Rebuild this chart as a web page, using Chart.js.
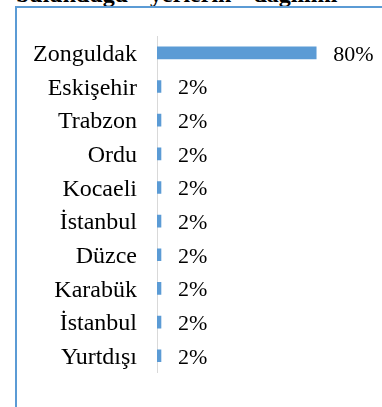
<!DOCTYPE html>
<html lang="tr">
<head>
<meta charset="utf-8">
<title>bulunduğu yerlerin dağılımı</title>
<script src="https://cdn.jsdelivr.net/npm/chart.js@4/dist/chart.umd.min.js"></script>
<style>
    html, body {
        margin: 0;
        padding: 0;
        background: #fff;
        overflow: hidden;
    }
    #page {
        position: relative;
        width: 382px;
        height: 407px;
        overflow: hidden;
    }
    #title {
        position: absolute;
        left: 16px;
        top: -18px;
        font: bold 24px "Liberation Serif", "Times New Roman", serif;
        line-height: 24px;
        word-spacing: 16px;
        white-space: nowrap;
        color: #000;
    }
    #frame {
        position: absolute;
        left: 15px;
        top: 6px;
        width: 420px;
        height: 460px;
        border: 2px solid #5b9bd5;
        box-sizing: border-box;
    }
    #chart {
        position: absolute;
        left: 0;
        top: 0;
    }
</style>
</head>
<body>
<div id="page">
    <div id="title">bulunduğu yerlerin dağılımı</div>
    <div id="frame"></div>
    <canvas id="chart" width="382" height="407"></canvas>
</div>
<script>
// places and their share (%)
const places = ["Zonguldak", "Eskişehir", "Trabzon", "Ordu", "Kocaeli",
    "İstanbul", "Düzce", "Karabük", "İstanbul", "Yurtdışı"];
const shares = [80, 2, 2, 2, 2, 2, 2, 2, 2, 2];

const serif = "'Liberation Serif', 'Times New Roman', serif";

// writes "n%" just past the end of every bar
const valueLabels = {
    id: "valueLabels",
    afterDatasetsDraw(chart) {
        const ctx = chart.ctx;
        const meta = chart.getDatasetMeta(0);
        ctx.save();
        ctx.font = "22px " + serif;
        ctx.fillStyle = "#000";
        ctx.textAlign = "left";
        ctx.textBaseline = "middle";
        meta.data.forEach(function (bar, i) {
            ctx.fillText(shares[i] + "%", bar.x + 17, bar.y + 2);
        });
        ctx.restore();
    }
};

function drawChart() {
    let ctx = document.getElementById("chart").getContext("2d");

    new Chart(ctx, {
        type: "bar",
        data: {
            labels: places,
            datasets: [
                {
                    data: shares,
                    backgroundColor: "#5b9bd5",
                    borderWidth: 0,
                    barThickness: 12
                }
            ]
        },
        options: {
            indexAxis: "y",
            responsive: false,
            animation: false,
            layout: {
                padding: { top: 36, bottom: 26, right: 26, left: 0 }
            },
            plugins: {
                legend: { display: false },
                tooltip: { enabled: false }
            },
            scales: {
                x: {
                    display: false,
                    min: 0,
                    max: 100
                },
                y: {
                    grid: { display: false, drawTicks: false },
                    border: { display: true, color: "#d9d9d9", width: 1 },
                    ticks: {
                        padding: 20,
                        labelOffset: 2,
                        color: "#000",
                        font: { family: serif, size: 24 }
                    },
                    afterFit: function (scale) {
                        scale.width = 157;
                    }
                }
            }
        },
        plugins: [valueLabels]
    });
}

document.addEventListener("DOMContentLoaded", function () {
    // make sure the serif face is ready before the canvas text is drawn
    Promise.all([
        document.fonts.load("24px 'Liberation Serif'"),
        document.fonts.load("24px 'Liberation Serif'", "İşı")
    ]).then(drawChart, drawChart);
});
</script>
</body>
</html>
